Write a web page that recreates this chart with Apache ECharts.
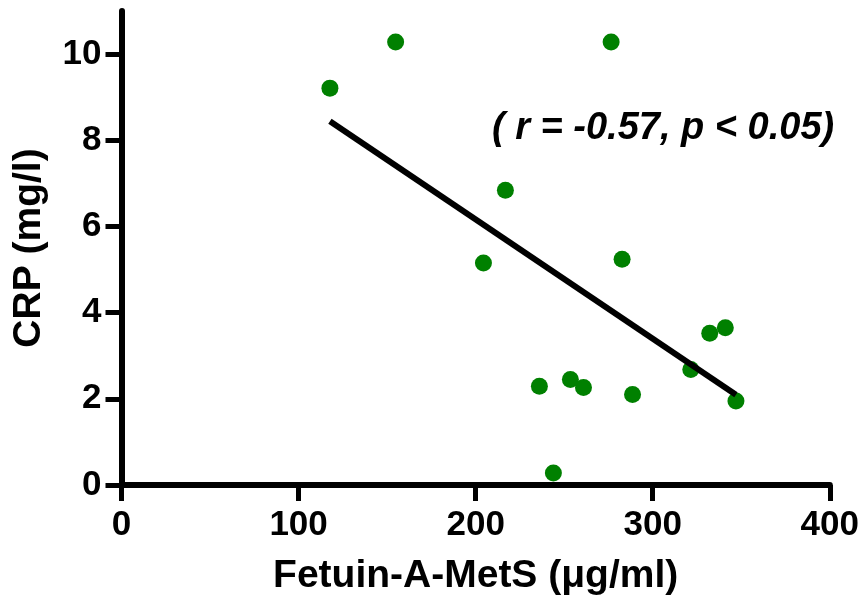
<!DOCTYPE html>
<html>
<head>
<meta charset="utf-8">
<script src="https://cdn.jsdelivr.net/npm/echarts@6/dist/echarts.min.js"></script>
<style>
  html, body { margin: 0; padding: 0; background: #ffffff; }
  #chart { width: 862px; height: 607px; }
</style>
</head>
<body>
<div id="chart"></div>
<script>
// Fetuin-A (µg/ml) against CRP (mg/l), MetS group
const fetuinA = [117.7, 154.8, 276.5, 216.8, 204.4, 282.7, 332.2, 341.0, 321.5, 347.0, 236.0, 253.5, 260.9, 288.6, 243.9];
const crp     = [9.21, 10.28, 10.28, 6.84, 5.15, 5.24, 3.52, 3.65, 2.68, 1.95, 2.29, 2.45, 2.26, 2.10, 0.28];

const xTicks = [0, 100, 200, 300, 400];
const yTicks = [0, 2, 4, 6, 8, 10];

const statsText = '( r = -0.57, p < 0.05)';

// Least-squares fit drawn across the observed x range
function linearFit(xs, ys) {
  const n = xs.length;
  const mx = xs.reduce((a, b) => a + b, 0) / n;
  const my = ys.reduce((a, b) => a + b, 0) / n;
  let sxy = 0, sxx = 0;
  for (let i = 0; i < n; i++) {
    sxy += (xs[i] - mx) * (ys[i] - my);
    sxx += (xs[i] - mx) * (xs[i] - mx);
  }
  const slope = sxy / sxx;
  return { slope, intercept: my - slope * mx };
}
const fit = linearFit(fetuinA, crp);
const xLo = Math.min(...fetuinA), xHi = Math.max(...fetuinA);
const fitLine = [[xLo, fit.intercept + fit.slope * xLo], [xHi, fit.intercept + fit.slope * xHi]];

const points = fetuinA.map((x, i) => [x, crp[i]]);

const FONT = 'Liberation Sans, Arial, Helvetica, sans-serif';
const axisCommon = {
  axisLine: { show: true, onZero: false, lineStyle: { color: '#000', width: 6 } },
  axisTick: { show: true, inside: false, length: 16, lineStyle: { color: '#000', width: 5 } },
  splitLine: { show: false },
  axisLabel: { color: '#000', fontFamily: FONT, fontWeight: 'bold', fontSize: 35 },
  nameTextStyle: { color: '#000', fontFamily: FONT, fontWeight: 'bold', fontSize: 39 }
};

const chart = echarts.init(document.getElementById('chart'), null, { renderer: 'canvas' });
chart.setOption({
  animation: false,
  backgroundColor: '#ffffff',
  grid: { left: 121.5, right: 29, top: 11, bottom: 122, containLabel: false },
  xAxis: Object.assign({}, axisCommon, {
    type: 'value', min: xTicks[0], max: xTicks[xTicks.length - 1], interval: 100,
    name: 'Fetuin-A-MetS (\u03bcg/ml)', nameLocation: 'middle', nameGap: 72,
    axisLabel: Object.assign({}, axisCommon.axisLabel, { margin: 23, customValues: xTicks }),
    axisTick: Object.assign({}, axisCommon.axisTick, { customValues: xTicks })
  }),
  yAxis: Object.assign({}, axisCommon, {
    type: 'value', min: 0, max: 11, interval: 2,
    name: 'CRP (mg/l)', nameLocation: 'middle', nameGap: 73, nameRotate: 90,
    axisLabel: Object.assign({}, axisCommon.axisLabel, { margin: 20, customValues: yTicks }),
    axisTick: Object.assign({}, axisCommon.axisTick, { customValues: yTicks })
  }),
  series: [
    {
      type: 'scatter',
      data: points,
      symbol: 'circle',
      symbolSize: 17,
      itemStyle: { color: '#008000', opacity: 1 },
      z: 2
    },
    {
      type: 'line',
      data: fitLine,
      symbol: 'none',
      lineStyle: { color: '#000', width: 6 },
      z: 3
    }
  ],
  graphic: [
    {
      type: 'text',
      left: 492,
      top: 110,
      style: {
        text: statsText,
        fill: '#000',
        font: 'italic bold 38px ' + FONT
      }
    }
  ]
});
</script>
</body>
</html>
